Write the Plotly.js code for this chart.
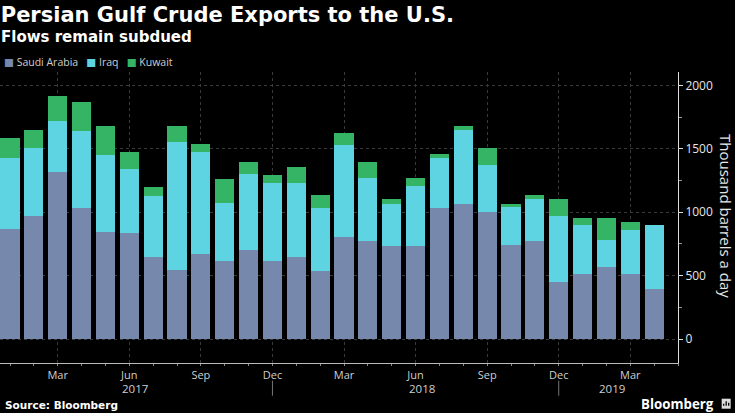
<!DOCTYPE html>
<html>
<head>
<meta charset="utf-8">
<script src="https://cdn.plot.ly/plotly-3.0.1.min.js"></script>
<style>
html,body{margin:0;padding:0;background:#000;}
#chart{width:735px;height:413px;}
</style>
</head>
<body>
<div id="chart"></div>
<script>
// Months, Jan 2017 .. Apr 2019
const months = ["2017-01","2017-02","2017-03","2017-04","2017-05","2017-06","2017-07","2017-08","2017-09","2017-10","2017-11","2017-12",
                "2018-01","2018-02","2018-03","2018-04","2018-05","2018-06","2018-07","2018-08","2018-09","2018-10","2018-11","2018-12",
                "2019-01","2019-02","2019-03","2019-04"];
// Thousand barrels a day
const saudiArabia = [868,968,1320,1034,840,835,643,546,669,614,701,614,
                     643,538,806,769,737,735,1036,1065,1000,742,769,451,
                     514,569,514,398];
const iraq        = [557,541,401,606,614,508,485,1005,806,459,598,614,
                     590,498,724,499,331,472,389,583,372,300,333,522,
                     381,211,347,502];
const kuwait      = [162,139,195,231,226,129,69,129,65,192,100,66,
                     126,103,97,131,32,63,32,34,132,26,32,129,
                     60,175,60,0];
const tickMonths = ["2017-03","2017-06","2017-09","2017-12","2018-03","2018-06","2018-09","2018-12","2019-03"];
const tickLabels = ["Mar","Jun","Sep","Dec","Mar","Jun","Sep","Dec","Mar"];
const yearLabels = [{year:"2017", at:"2017-06"},{year:"2018", at:"2018-06"},{year:"2019", at:"2019-02"}];
const yearSeparators = ["2017-12","2018-12"];
const seriesNames = ["Saudi Arabia","Iraq","Kuwait"];

const colors = ["#7788ad","#5ed4e2","#36b466"];
const idx = m => months.indexOf(m);
const xs = months.map((m,i)=>i);

const traces = [saudiArabia, iraq, kuwait].map((vals,k)=>({
  type:'bar', x: xs, y: vals, name: seriesNames[k],
  marker:{color: colors[k], line:{width:0}},
  showlegend:false, hoverinfo:'y'
}));

const font = "Open Sans, DejaVu Sans, sans-serif";
const boldFont = "DejaVu Sans, sans-serif";
const py = p => (363.3-p)/291;   // pixel row -> paper y
const px = p => p/678.3;         // pixel column -> paper x
const annotations = [];
// Subtitle
annotations.push({xref:'paper', yref:'paper', x:-0.002, y:py(37), xanchor:'left', yanchor:'middle',
  text:'<b>Flows remain subdued</b>', showarrow:false, font:{family:boldFont, size:15, color:'#ffffff'}});
// Legend (manual)
const legendText = seriesNames.map((n,k)=>'<span style="color:'+colors[k]+'">■</span> '+n).join('   ');
annotations.push({xref:'paper', yref:'paper', x:0.003, y:py(62), xanchor:'left', yanchor:'middle',
  text: legendText, showarrow:false, font:{family:font, size:10.5, color:'#cfcfcf'}});
// Year labels
yearLabels.forEach(y=>annotations.push({xref:'x', yref:'paper', x: idx(y.at)+0.25, y:py(389), xanchor:'center', yanchor:'middle',
  text:y.year, showarrow:false, font:{family:font, size:11.5, color:'#cfcfcf'}}));
// Axis title (reads top to bottom)
annotations.push({xref:'paper', yref:'paper', x:px(727), y:py(216), xanchor:'center', yanchor:'middle',
  text:'Thousand barrels a day', textangle:90, showarrow:false, font:{family:font, size:15, color:'#e6e6e6'}});
// Source
annotations.push({xref:'paper', yref:'paper', x:0.004, y:py(405), xanchor:'left', yanchor:'middle',
  text:'<b>Source: Bloomberg</b>', showarrow:false, font:{family:boldFont, size:10.5, color:'#ffffff'}});
// Brand
annotations.push({xref:'paper', yref:'paper', x:px(716), y:py(404), xanchor:'right', yanchor:'middle',
  text:'<b>Bloomberg</b>', showarrow:false, font:{family:font, size:13.3, color:'#ffffff'}});

const shapes = yearSeparators.map(m=>({type:'line', xref:'x', yref:'paper', x0:idx(m), x1:idx(m),
  y0:py(381), y1:py(396), line:{color:'#777', width:1}}));
// brand icon
shapes.push({type:'rect', xref:'paper', yref:'paper', x0:px(722), x1:px(731), y0:py(409), y1:py(399),
  fillcolor:'#dddddd', line:{width:0}});
[[724,406,404],[726.5,406,401.5],[729,406,403]].forEach(b=>shapes.push({type:'line', xref:'paper', yref:'paper',
  x0:px(b[0]), x1:px(b[0]), y0:py(b[1]), y1:py(b[2]), line:{color:'#000', width:1.3}}));

const layout = {
  width:735, height:413,
  paper_bgcolor:'#000', plot_bgcolor:'#000',
  margin:{l:0, r:56.7, t:72, b:50},
  barmode:'stack', bargap:0.2,
  title:{text:'<b>Persian Gulf Crude Exports to the U.S.</b>', x:0.001, xanchor:'left', xref:'container',
         y:1-15/413, yref:'container', yanchor:'middle', font:{family:boldFont, size:21, color:'#ffffff'}},
  xaxis:{type:'linear', range:[-0.42, 28.0], tickmode:'array', tickvals: tickMonths.map(idx), ticktext: tickLabels,
         showgrid:true, gridcolor:'#3a3a3a', griddash:'dot', gridwidth:1,
         ticks:'outside', ticklen:2, tickcolor:'#888',
         minor:{dtick:1, tick0:0, ticks:'outside', ticklen:2, tickcolor:'#888', showgrid:false},
         showline:true, linecolor:'#bbbbbb', linewidth:1, zeroline:false,
         tickfont:{family:font, size:11, color:'#cfcfcf'}, fixedrange:true},
  yaxis:{side:'right', range:[-189, 2105], tickmode:'linear', tick0:0, dtick:500,
         showgrid:true, gridcolor:'#3a3a3a', griddash:'dot', gridwidth:1,
         ticks:'outside', ticklen:4, tickcolor:'#dddddd',
         minor:{dtick:250, tick0:0, ticks:'outside', ticklen:3, tickcolor:'#999', showgrid:false},
         showline:true, linecolor:'#dddddd', linewidth:1, zeroline:false,
         tickfont:{family:font, size:12, color:'#e6e6e6'}, fixedrange:true},
  annotations: annotations,
  shapes: shapes
};
Plotly.newPlot('chart', traces, layout, {displayModeBar:false, staticPlot:true});
</script>
</body>
</html>
